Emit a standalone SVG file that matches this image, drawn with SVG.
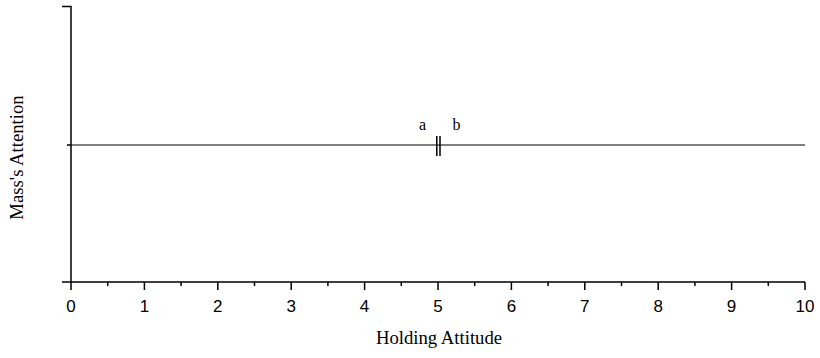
<svg xmlns="http://www.w3.org/2000/svg" width="820" height="358" viewBox="0 0 820 358">
<style>
.axis{stroke:#000;stroke-width:1.5;fill:none}
.thin{stroke:#000;stroke-width:1;fill:none}
.num{font-family:"Liberation Sans",Arial,sans-serif;font-size:17px;fill:#000;text-anchor:middle}
.serif{font-family:"Liberation Serif","Times New Roman",serif;fill:#000}
</style>
<rect width="820" height="358" fill="#fff"/>
<g id="axes">
<path class="axis" d="M62,6.5 H71 V290 M62,282 H805 M67,145 H71"/>
<path class="axis" d="M144.4,282V290 M217.8,282V290 M291.2,282V290 M364.6,282V290 M438,282V290 M511.4,282V290 M584.8,282V290 M658.2,282V290 M731.6,282V290 M805,282V290"/>
<path class="axis" d="M107.7,282V286 M181.1,282V286 M254.5,282V286 M327.9,282V286 M401.3,282V286 M474.7,282V286 M548.1,282V286 M621.5,282V286 M694.9,282V286 M768.3,282V286"/>
<g class="num">
<text x="71" y="312">0</text><text x="144.4" y="312">1</text><text x="217.8" y="312">2</text><text x="291.2" y="312">3</text><text x="364.6" y="312">4</text><text x="438" y="312">5</text><text x="511.4" y="312">6</text><text x="584.8" y="312">7</text><text x="658.2" y="312">8</text><text x="731.6" y="312">9</text><text x="805" y="312">10</text>
</g>
<text class="serif" x="439" y="344" font-size="18.7" text-anchor="middle">Holding Attitude</text>
<text class="serif" transform="translate(22.5,157.5) rotate(-90)" font-size="18.7" text-anchor="middle">Mass's Attention</text>
</g>
<g id="connectors">
<path class="thin" d="M71,145 H805"/>
</g>
<g id="break">
<path class="axis" d="M436.8,136 V156 M440,136 V156"/>
<text class="serif" x="422.5" y="130" font-size="16" text-anchor="middle">a</text>
<text class="serif" x="456.5" y="130" font-size="16" text-anchor="middle">b</text>
</g>
</svg>
